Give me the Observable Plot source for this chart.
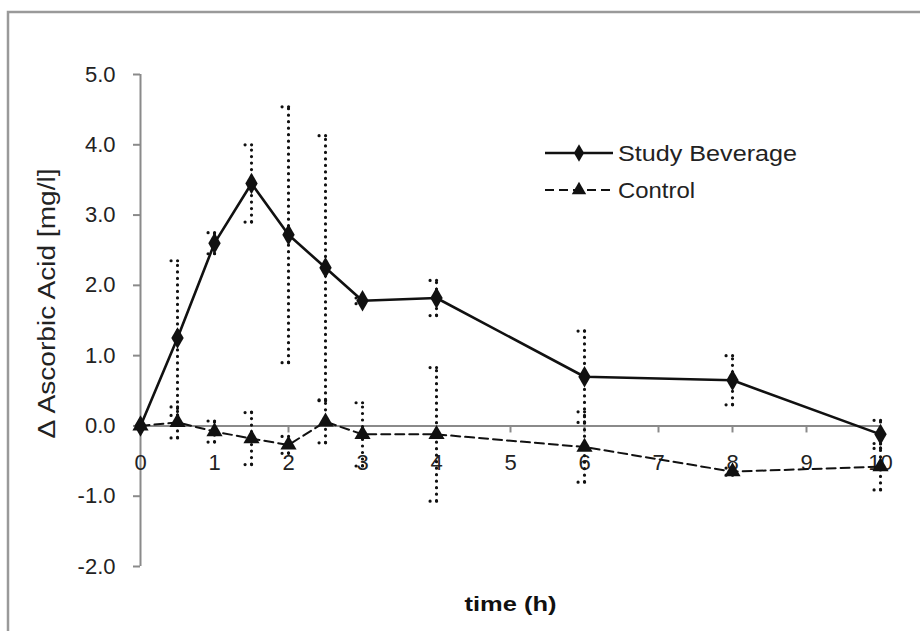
<!DOCTYPE html>
<html>
<head>
<meta charset="utf-8">
<script src="https://cdn.jsdelivr.net/npm/d3@7"></script>
<script src="https://cdn.jsdelivr.net/npm/@observablehq/plot@0.6"></script>
<style>
  html, body { margin: 0; padding: 0; background: #fff; }
  #wrap { position: relative; width: 920px; height: 631px; overflow: hidden; font-family: "Liberation Sans", Arial, sans-serif; }
  #wrap svg { position: absolute; left: 0; top: 0; }
</style>
</head>
<body>
<div id="wrap"></div>
<script>
// ---- data ----
const times = [0, 0.5, 1, 1.5, 2, 2.5, 3, 4, 6, 8, 10];
const studyMean = [0, 1.25, 2.6, 3.45, 2.72, 2.25, 1.78, 1.82, 0.7, 0.65, -0.12];
const studyErr = [0, 1.1, 0.15, 0.55, 1.82, 1.88, 0.04, 0.25, 0.65, 0.35, 0.2];
const controlMean = [0, 0.05, -0.08, -0.18, -0.27, 0.06, -0.12, -0.12, -0.3, -0.65, -0.58];
const controlErr = [0, 0.22, 0.15, 0.37, 0.12, 0.3, 0.45, 0.95, 0.5, 0.05, 0.33];
const xTicks = [0, 1, 2, 3, 4, 5, 6, 7, 8, 9, 10];
const yTicks = [-2, -1, 0, 1, 2, 3, 4, 5];
const seriesNames = ["Study Beverage", "Control"];
const yLabel = "\u0394 Ascorbic Acid [mg/l]";
const xLabel = "time (h)";

const study = times.map((t, i) => ({t, v: studyMean[i], e: studyErr[i]}));
const control = times.map((t, i) => ({t, v: controlMean[i], e: controlErr[i]}));
const withErr = [...study, ...control].filter(d => d.e > 0);

const ink = "#111";
const axisGray = "#8a8a8a";
const dotted = {stroke: ink, strokeWidth: 3.2, strokeLinecap: "round", strokeDasharray: "0,6.5"};
const capHalf = 0.08;

const chart = Plot.plot({
  width: 920,
  height: 631,
  marginLeft: 140,
  marginRight: 40,
  marginTop: 74,
  marginBottom: 65,
  style: {fontFamily: "'Liberation Sans', Arial, sans-serif", background: "transparent"},
  x: {domain: [0, 10], axis: null},
  y: {domain: [-2, 5], axis: null},
  marks: [
    // y axis
    Plot.ruleX([0], {stroke: axisGray, strokeWidth: 2}),
    Plot.axisY(yTicks, {tickSize: 7, tickPadding: 18, stroke: axisGray, strokeWidth: 2, fill: "#222",
      fontSize: 22, tickFormat: d => d.toFixed(1), label: null}),
    // x axis at y = 0
    Plot.ruleY([0], {stroke: axisGray, strokeWidth: 2}),
    Plot.ruleX(xTicks, {x: d => d, y1: 0, y2: -0.1, stroke: axisGray, strokeWidth: 2}),
    Plot.text(xTicks, {x: d => d, y: 0, dy: 37, text: d => String(d), fontSize: 22, fill: "#222"}),
    // axis titles
    Plot.text([yLabel], {frameAnchor: "left", dx: -93, dy: 118, rotate: -90, textAnchor: "start",
      fontSize: 23, fill: "#222", className: "ylab"}),
    Plot.text([xLabel], {frameAnchor: "bottom", dy: 44, fontSize: 21, fontWeight: "bold", fill: "#111", className: "xlab"}),
    // error bars
    Plot.ruleX(withErr, {x: "t", y1: d => d.v - d.e, y2: d => d.v + d.e, ...dotted}),
    Plot.ruleY(withErr, {y: d => d.v + d.e, x1: d => d.t - capHalf, x2: d => d.t + capHalf, ...dotted}),
    Plot.ruleY(withErr, {y: d => d.v - d.e, x1: d => d.t - capHalf, x2: d => d.t + capHalf, ...dotted}),
    // series
    Plot.line(control, {x: "t", y: "v", stroke: ink, strokeWidth: 2, strokeDasharray: "9,5"}),
    Plot.line(study, {x: "t", y: "v", stroke: ink, strokeWidth: 2.6}),
    Plot.dot(control, {x: "t", y: "v", symbol: "triangle", r: 6, fill: ink}),
    Plot.dot(study, {x: "t", y: "v", symbol: "diamond", r: 6.5, fill: ink})
  ]
});
const wrap = document.getElementById("wrap");
wrap.appendChild(chart);

// stretch titles to match the reference's text lengths
d3.select(chart).selectAll(".ylab text").attr("textLength", 270).attr("lengthAdjust", "spacingAndGlyphs");
d3.select(chart).selectAll(".xlab text").attr("textLength", 92).attr("lengthAdjust", "spacingAndGlyphs");

// legend + frame overlay
const ov = d3.select(wrap).append("svg").attr("width", 920).attr("height", 631)
  .style("font-family", "'Liberation Sans', Arial, sans-serif");
ov.append("path").attr("d", "M8,631V12H920").attr("fill", "none").attr("stroke", "#9a9a9a").attr("stroke-width", 2.5);
const legendRows = [
  {name: seriesNames[0], dash: null, sym: d3.symbolDiamond, y: 153, len: 179},
  {name: seriesNames[1], dash: "9,5", sym: d3.symbolTriangle, y: 190, len: 77}
];
legendRows.forEach(r => {
  ov.append("line").attr("x1", 545).attr("x2", 613).attr("y1", r.y).attr("y2", r.y)
    .attr("stroke", ink).attr("stroke-width", r.dash ? 2 : 2.6).attr("stroke-dasharray", r.dash);
  ov.append("path").attr("d", d3.symbol(r.sym, 90)()).attr("transform", `translate(579,${r.y})`).attr("fill", ink);
  ov.append("text").attr("x", 618).attr("y", r.y).attr("dy", "0.35em").attr("font-size", 22)
    .attr("fill", "#222").attr("textLength", r.len).attr("lengthAdjust", "spacingAndGlyphs").text(r.name);
});
</script>
</body>
</html>
